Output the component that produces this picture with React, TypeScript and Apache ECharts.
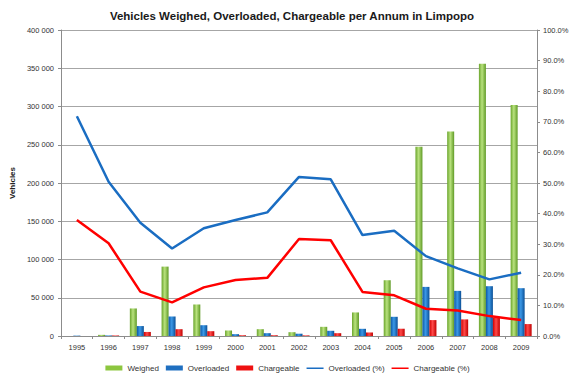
import React, { useEffect, useRef } from "react";
import * as echarts from "echarts";

const years = ["1995","1996","1997","1998","1999","2000","2001","2002","2003","2004","2005","2006","2007","2008","2009"];
const weighed = [0, 1500, 36000, 90700, 41200, 7200, 8900, 5000, 12000, 30800, 72900, 247400, 267300, 355900, 302000];
const overloaded = [500, 700, 13000, 25500, 14100, 2400, 3700, 3000, 6800, 9400, 25100, 64200, 59000, 65100, 62500];
const chargeable = [0, 700, 5300, 8900, 6300, 1000, 1000, 800, 3700, 4600, 9500, 20800, 21700, 24300, 15600];
const overloadedPct = [71.8, 50.4, 37.0, 28.6, 35.2, 37.9, 40.4, 52.0, 51.2, 33.0, 34.4, 26.1, 22.1, 18.5, 20.7];
const chargeablePct = [37.9, 30.3, 14.5, 11.0, 15.9, 18.3, 19.0, 31.7, 31.3, 14.4, 13.3, 8.9, 8.3, 6.5, 5.2];

const FONT = "Liberation Sans, Arial, sans-serif";
const LINE_ICON = "path://M0,0 L0,0 M0,2 L17,2 L17,3.5 L0,3.5 Z M17,5 L17,5";

function grad(a: string, b: string, c: string) {
  return new echarts.graphic.LinearGradient(0, 0, 1, 0, [
    { offset: 0, color: a },
    { offset: 0.45, color: b },
    { offset: 1, color: c },
  ]);
}

export default function App() {
  const ref = useRef<HTMLDivElement>(null);
  useEffect(() => {
    const chart = echarts.init(ref.current!, null, { renderer: "svg" });
    const fmtK = (v: number) => {
      if (v === 0) return "0";
      const s = String(v);
      return s.slice(0, s.length - 3) + " " + s.slice(s.length - 3);
    };
    chart.setOption({
      animation: false,
      backgroundColor: "#ffffff",
      title: {
        text: "Vehicles Weighed, Overloaded, Chargeable per Annum in Limpopo",
        left: 287,
        textAlign: "center",
        top: 5,
        textStyle: { fontFamily: FONT, fontSize: 11.5, fontWeight: "bold", color: "#1a1a1a" },
      },
      grid: { left: 55, right: 38, top: 30, bottom: 44, containLabel: false },
      legend: {
        bottom: 3,
        left: "center",
        itemWidth: 17,
        itemHeight: 5,
        itemGap: 7,
        textStyle: { fontFamily: FONT, fontSize: 8, color: "#333" },
        data: [
          { name: "Weighed", icon: "rect", itemStyle: { color: "#8cc63f" } },
          { name: "Overloaded", icon: "rect", itemStyle: { color: "#1f6fc0" } },
          { name: "Chargeable", icon: "rect", itemStyle: { color: "#ee1111" } },
          { name: "Overloaded (%)", icon: LINE_ICON, itemStyle: { color: "#1a6dc2" } },
          { name: "Chargeable (%)", icon: LINE_ICON, itemStyle: { color: "#ff0000" } },
        ],
      },
      xAxis: {
        type: "category",
        data: years,
        boundaryGap: true,
        axisLine: { lineStyle: { color: "#8c8c8c" } },
        axisTick: { show: true, alignWithLabel: false, length: 3, lineStyle: { color: "#8c8c8c" } },
        axisLabel: { fontFamily: FONT, fontSize: 7.5, color: "#333", margin: 7 },
      },
      yAxis: [
        {
          type: "value",
          min: 0,
          max: 400000,
          interval: 50000,
          name: "Vehicles",
          nameLocation: "middle",
          nameGap: 43,
          nameRotate: 90,
          nameTextStyle: { fontFamily: FONT, fontSize: 8, fontWeight: "bold", color: "#222" },
          axisLine: { show: true, lineStyle: { color: "#8c8c8c" } },
          axisTick: { show: true, length: 3, lineStyle: { color: "#8c8c8c" } },
          axisLabel: { fontFamily: FONT, fontSize: 7.5, color: "#333", formatter: fmtK, margin: 7 },
          splitLine: { show: true, lineStyle: { color: "#a6a6a6", width: 1 } },
        },
        {
          type: "value",
          min: 0,
          max: 100,
          interval: 10,
          position: "right",
          axisLine: { show: true, lineStyle: { color: "#8c8c8c" } },
          axisTick: { show: true, length: 3, lineStyle: { color: "#8c8c8c" } },
          axisLabel: { fontFamily: FONT, fontSize: 7.5, color: "#333", formatter: (v: number) => v.toFixed(1) + "%", margin: 6 },
          splitLine: { show: false },
        },
      ],
      series: [
        {
          name: "Weighed",
          type: "bar",
          data: weighed,
          barWidth: 7,
          barGap: "0%",
          itemStyle: { color: grad("#6aa52c", "#b9e27e", "#5f9a25") },
        },
        {
          name: "Overloaded",
          type: "bar",
          data: overloaded,
          barWidth: 7,
          barGap: "0%",
          itemStyle: { color: grad("#0c59a8", "#3b98e6", "#0a4f96") },
        },
        {
          name: "Chargeable",
          type: "bar",
          data: chargeable,
          barWidth: 7,
          barGap: "0%",
          itemStyle: { color: grad("#d00000", "#ff4a4a", "#c00000") },
        },
        {
          name: "Overloaded (%)",
          type: "line",
          yAxisIndex: 1,
          data: overloadedPct,
          symbol: "none",
          lineStyle: { color: "#1a6dc2", width: 2.5 },
          itemStyle: { color: "#1a6dc2" },
        },
        {
          name: "Chargeable (%)",
          type: "line",
          yAxisIndex: 1,
          data: chargeablePct,
          symbol: "none",
          lineStyle: { color: "#ff0000", width: 2.5 },
          itemStyle: { color: "#ff0000" },
        },
      ],
    });
    return () => chart.dispose();
  }, []);
  return (
    <div
      ref={ref}
      style={{ width: 575, height: 380, position: "absolute", left: 0, top: 0, boxSizing: "border-box" }}
    />
  );
}
